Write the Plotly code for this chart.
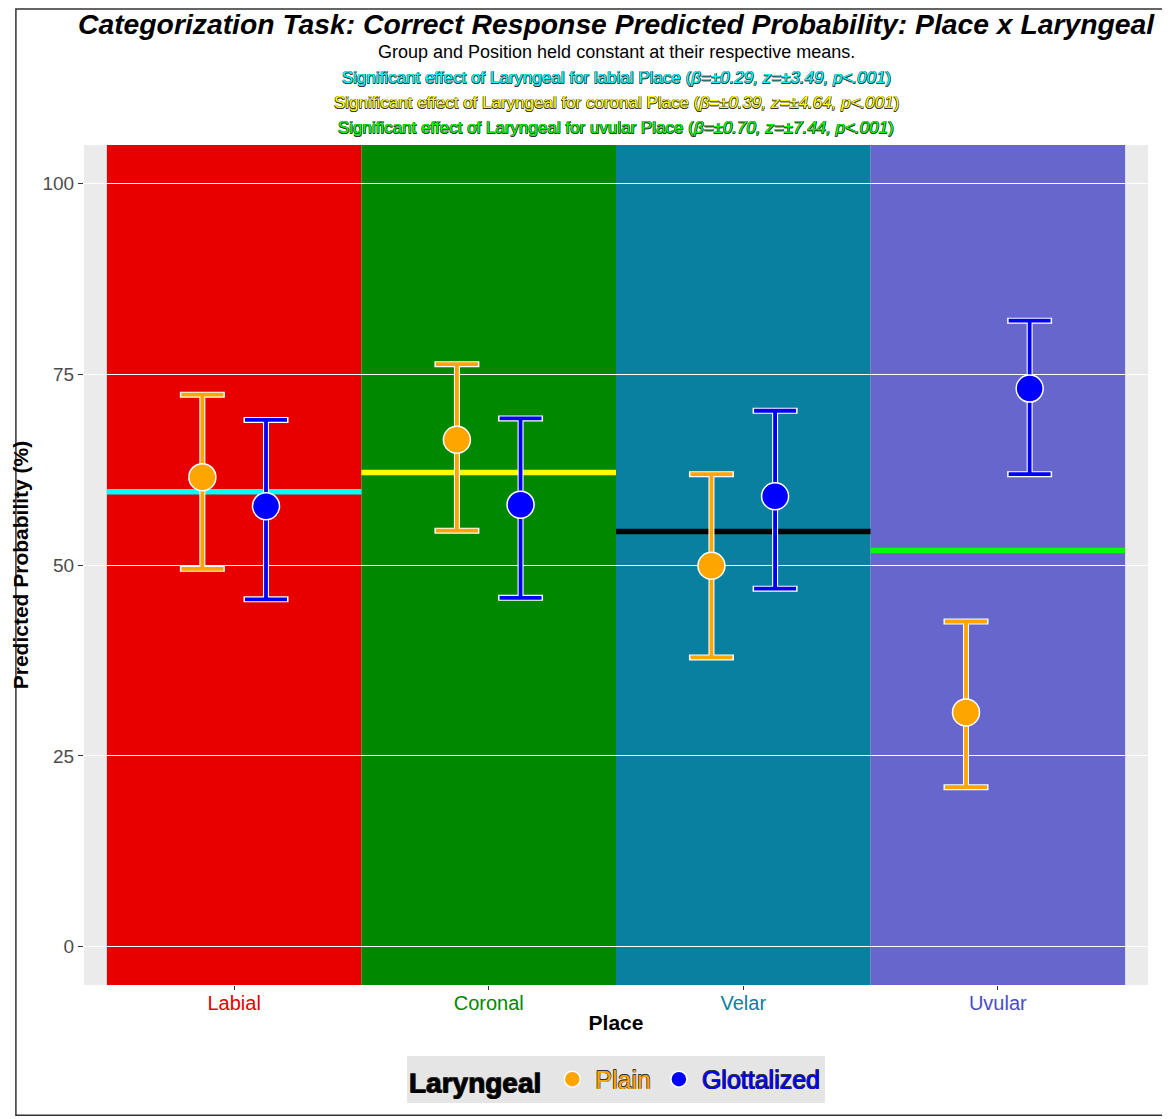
#!/usr/bin/env python3
"""
分类任务：正确反应预测概率（Place x Laryngeal）
"""

import plotly.graph_objects as go

# 数据
places = ['Labial', 'Coronal', 'Velar', 'Uvular']
plain_prob = [61.5, 66.4, 49.9, 30.7]
plain_upper = [72.3, 76.3, 61.9, 42.6]
plain_lower = [49.5, 54.5, 37.9, 20.9]
glott_prob = [57.7, 57.9, 59.0, 73.1]
glott_upper = [69.0, 69.2, 70.2, 82.0]
glott_lower = [45.5, 45.7, 46.9, 61.9]
place_means = [59.6, 62.1, 54.4, 51.9]
y_ticks = [0, 25, 50, 75, 100]

theme = {
    'font': 'Liberation Sans, Arial, sans-serif',
    'panel': '#EBEBEB',
    'place_bg': ['#E80000', '#008800', '#0A80A0', '#6666CC'],
    'place_text': ['#E80000', '#008800', '#0A80A0', '#4B4BC8'],
    'mean_line': ['#00FFFF', '#FFFF00', '#000000', '#00FF00'],
    'plain': '#FFA500',
    'glott': '#0000FF',
    'tick': '#4D4D4D',
}
outline = '0.5px 0.5px 0 #333, -0.5px -0.5px 0 #333, 0.5px -0.5px 0 #333, -0.5px 0.5px 0 #333'

xpos = list(range(1, len(places) + 1))
dodge = 0.125

fig = go.Figure()

# 每个Place的均值线
for i, m in enumerate(place_means):
    fig.add_trace(go.Scatter(
        x=[xpos[i] - 0.5, xpos[i] + 0.5], y=[m, m], mode='lines',
        line=dict(color=theme['mean_line'][i], width=5.5),
        showlegend=False, hoverinfo='skip'
    ))

series = [
    ('Plain', -dodge, plain_prob, plain_upper, plain_lower, theme['plain']),
    ('Glottalized', dodge, glott_prob, glott_upper, glott_lower, theme['glott']),
]

# 误差线白色描边（底层）
for name, off, prob, up, lo, color in series:
    fig.add_trace(go.Scatter(
        x=[x + off for x in xpos], y=prob, mode='markers',
        marker=dict(size=1, color='rgba(0,0,0,0)'),
        error_y=dict(type='data', symmetric=False,
                     array=[u - p for u, p in zip(up, prob)],
                     arrayminus=[p - l for p, l in zip(prob, lo)],
                     color='white', thickness=6, width=22.5),
        showlegend=False, hoverinfo='skip'
    ))

# 误差线 + 点
for name, off, prob, up, lo, color in series:
    fig.add_trace(go.Scatter(
        x=[x + off for x in xpos], y=prob, mode='markers',
        name=f"<span style='color:{color}'>{name}</span>",
        marker=dict(size=27, color=color, line=dict(color='white', width=1.5)),
        error_y=dict(type='data', symmetric=False,
                     array=[u - p for u, p in zip(up, prob)],
                     arrayminus=[p - l for p, l in zip(prob, lo)],
                     color=color, thickness=3.8, width=21)
    ))

# 背景色块
for i, c in enumerate(theme['place_bg']):
    fig.add_shape(type='rect', xref='x', yref='y domain',
                  x0=xpos[i] - 0.5, x1=xpos[i] + 0.5, y0=0, y1=1,
                  fillcolor=c, line=dict(width=0), layer='below')

# 外框
fig.add_shape(type='rect', xref='paper', yref='paper',
              x0=-0.064, x1=1.016, y0=-0.155, y1=1.162,
              line=dict(color='#333333', width=1.5), layer='above')

# 标题与副标题
titles = [
    ("<b><i>Categorization Task: Correct Response Predicted Probability: Place x Laryngeal</i></b>",
     1.144, 28.3, 'black', None),
    ("Group and Position held constant at their respective means.", 1.111, 18, 'black', None),
    ("Significant effect of Laryngeal for labial Place (<i>β=±0.29, z=±3.49, p<.001</i>)",
     1.080, 17, '#00FFFF', outline),
    ("Significant effect of Laryngeal for coronal Place (<i>β=±0.39, z=±4.64, p<.001</i>)",
     1.050, 17, '#FFFF00', outline),
    ("Significant effect of Laryngeal for uvular Place (<i>β=±0.70, z=±7.44, p<.001</i>)",
     1.021, 17, '#00FF00', outline),
]
for text, y, size, color, shadow in titles:
    font = dict(family=theme['font'], size=size, color=color)
    if shadow:
        font['shadow'] = shadow
    fig.add_annotation(text=text, xref='paper', yref='paper', x=0.5, y=y,
                       xanchor='center', yanchor='middle', showarrow=False, font=font)

fig.update_layout(
    width=1160, height=1109,
    paper_bgcolor='white', plot_bgcolor=theme['panel'],
    font=dict(family=theme['font'], color='black'),
    margin=dict(l=70, r=20, t=137, b=132),
    xaxis=dict(
        range=[0.41, 4.59], tickvals=xpos,
        ticktext=[f"<span style='color:{c}'>{p}</span>" for p, c in zip(places, theme['place_text'])],
        showgrid=False, zeroline=False, ticks='outside', ticklen=4, tickcolor='#333333',
        tickfont=dict(size=20), ticklabelstandoff=-4,
        title=dict(text='<b>Place</b>', font=dict(size=21), standoff=2),
    ),
    yaxis=dict(
        range=[-5, 105], tickvals=y_ticks, showgrid=True, gridcolor='white', gridwidth=1.2,
        zeroline=False, ticks='outside', ticklen=5, tickcolor='#333333',
        tickfont=dict(size=19, color=theme['tick']),
        title=dict(text='<b>Predicted Probability (%)</b>', font=dict(size=21), standoff=8),
    ),
    legend=dict(
        orientation='h', x=0.5, xanchor='center', y=-0.085, yanchor='top',
        bgcolor='#E5E5E5', borderwidth=0, itemwidth=36,
        title=dict(text='<b>Laryngeal</b>', font=dict(size=28, color='black')),
        font=dict(size=25, shadow=outline),
    ),
)

fig.write_html("out.html")
